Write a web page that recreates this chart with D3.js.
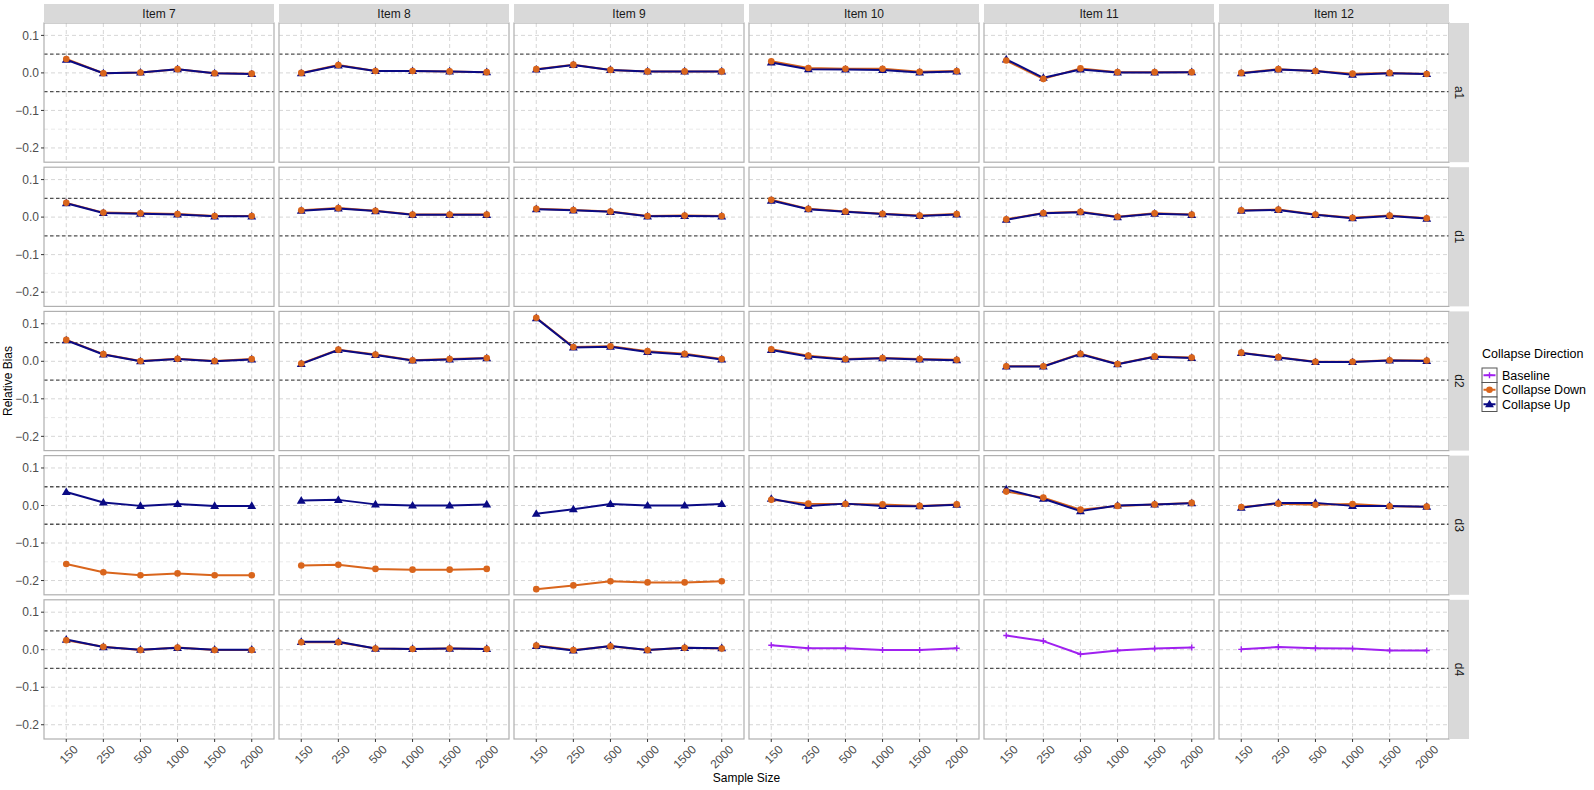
<!DOCTYPE html>
<html>
<head>
<meta charset="utf-8">
<script src="https://cdn.jsdelivr.net/npm/d3@7"></script>
<style>
  body { margin: 0; background: #fff; }
  svg { display: block; font-family: "Liberation Sans", Arial, sans-serif; }
</style>
</head>
<body>
<svg id="chart" width="1594" height="790"></svg>
<script>
// ---------------- data ----------------
const sampleSizes = ["150", "250", "500", "1000", "1500", "2000"];
const items = ["Item 7", "Item 8", "Item 9", "Item 10", "Item 11", "Item 12"];
const params = ["a1", "d1", "d2", "d3", "d4"];
const yTicks = [0.1, 0.0, -0.1, -0.2];
const yMinor = [0.05, -0.05, -0.15];
const refLines = [0.05, -0.05];
const seriesNames = ["Baseline", "Collapse Down", "Collapse Up"];

// each array: one row per item (Item 7..12), one value per sample size
const upA1 = [
  [0.035, -0.001, 0.001, 0.010, -0.001, -0.003],
  [-0.001, 0.020, 0.005, 0.005, 0.004, 0.002],
  [0.009, 0.021, 0.008, 0.004, 0.004, 0.004],
  [0.028, 0.010, 0.009, 0.008, 0.001, 0.004],
  [0.036, -0.013, 0.009, 0.001, 0.001, 0.002],
  [-0.001, 0.009, 0.005, -0.005, -0.001, -0.003]
];
const downA1 = [
  [0.037, -0.001, 0.001, 0.010, -0.001, -0.002],
  [0.000, 0.021, 0.005, 0.005, 0.004, 0.002],
  [0.010, 0.022, 0.008, 0.004, 0.004, 0.004],
  [0.031, 0.013, 0.011, 0.011, 0.003, 0.005],
  [0.033, -0.016, 0.012, 0.002, 0.002, 0.002],
  [0.000, 0.010, 0.005, -0.002, 0.000, -0.003]
];
const upD1 = [
  [0.037, 0.011, 0.009, 0.007, 0.002, 0.002],
  [0.017, 0.023, 0.016, 0.006, 0.006, 0.006],
  [0.021, 0.018, 0.014, 0.002, 0.003, 0.002],
  [0.044, 0.021, 0.014, 0.008, 0.003, 0.007],
  [-0.007, 0.010, 0.013, 0.000, 0.009, 0.006],
  [0.017, 0.019, 0.006, -0.003, 0.003, -0.004]
];
const downD1 = [
  [0.038, 0.012, 0.010, 0.008, 0.003, 0.003],
  [0.018, 0.024, 0.017, 0.007, 0.007, 0.007],
  [0.022, 0.019, 0.015, 0.003, 0.004, 0.003],
  [0.046, 0.022, 0.015, 0.009, 0.004, 0.008],
  [-0.006, 0.011, 0.014, 0.001, 0.010, 0.007],
  [0.018, 0.020, 0.007, -0.002, 0.004, -0.003]
];
const upD2 = [
  [0.056, 0.018, 0.000, 0.006, 0.000, 0.005],
  [-0.007, 0.030, 0.017, 0.002, 0.005, 0.008],
  [0.115, 0.037, 0.039, 0.025, 0.018, 0.005],
  [0.030, 0.013, 0.005, 0.008, 0.005, 0.003],
  [-0.014, -0.014, 0.019, -0.008, 0.012, 0.009],
  [0.022, 0.010, -0.002, -0.002, 0.002, 0.001]
];
const downD2 = [
  [0.057, 0.019, 0.001, 0.007, 0.001, 0.006],
  [-0.006, 0.031, 0.018, 0.003, 0.006, 0.009],
  [0.116, 0.038, 0.040, 0.027, 0.020, 0.006],
  [0.032, 0.015, 0.006, 0.009, 0.006, 0.004],
  [-0.013, -0.013, 0.020, -0.007, 0.013, 0.010],
  [0.023, 0.011, -0.001, -0.001, 0.003, 0.002]
];
const upD3 = [
  [0.036, 0.008, -0.001, 0.004, -0.001, -0.001],
  [0.013, 0.015, 0.003, 0.000, 0.000, 0.003],
  [-0.022, -0.010, 0.004, 0.000, 0.000, 0.004],
  [0.018, -0.001, 0.005, -0.001, -0.002, 0.002],
  [0.043, 0.018, -0.015, 0.000, 0.003, 0.006],
  [-0.006, 0.007, 0.007, -0.001, -0.001, -0.003]
];
const downD3 = [
  [-0.156, -0.178, -0.186, -0.181, -0.186, -0.186],
  [-0.160, -0.158, -0.169, -0.171, -0.171, -0.169],
  [-0.223, -0.213, -0.202, -0.205, -0.205, -0.202],
  [0.015, 0.005, 0.004, 0.003, -0.001, 0.003],
  [0.037, 0.021, -0.011, -0.001, 0.003, 0.007],
  [-0.004, 0.005, 0.002, 0.004, -0.002, -0.003]
];
const upD4 = [
  [0.027, 0.007, 0.000, 0.005, 0.000, 0.000],
  [0.021, 0.021, 0.003, 0.002, 0.003, 0.002],
  [0.010, -0.002, 0.010, -0.001, 0.005, 0.004],
  null, null, null
];
const downD4 = [
  [0.025, 0.008, -0.001, 0.006, -0.001, -0.001],
  [0.020, 0.020, 0.003, 0.002, 0.003, 0.002],
  [0.011, -0.001, 0.009, -0.001, 0.005, 0.003],
  null, null, null
];
const baselineD4 = [
  null, null, null,
  [0.012, 0.004, 0.004, -0.001, -0.001, 0.004],
  [0.038, 0.023, -0.012, -0.002, 0.003, 0.006],
  [0.001, 0.007, 0.004, 0.003, -0.002, -0.002]
];

const upByParam = [upA1, upD1, upD2, upD3, upD4];
const downByParam = [downA1, downD1, downD2, downD3, downD4];
const baseByParam = [null, null, null, null, baselineD4];

// ---------------- layout ----------------
const colors = { "Baseline": "#A020F0", "Collapse Down": "#D9651C", "Collapse Up": "#0A0A84" };
const plotLeft = 44, panelW = 230, colGap = 5;
const plotTop = 23, panelH = 139.2, rowGap = 5;
const stripH = 19, rightStripW = 20;

const svg = d3.select("#chart");

const x = d3.scalePoint().domain(sampleSizes).range([0, panelW]).padding(0.6);
const y = d3.scaleLinear().domain([-0.238, 0.133]).range([panelH, 0]);

const triangle = d3.symbol().type(d3.symbolTriangle).size(34);
const cross = d3.symbol().type(d3.symbolCross).size(26);

function drawMarker(g, name, px, py) {
  if (name === "Collapse Down") {
    g.append("circle").attr("cx", px).attr("cy", py).attr("r", 3.3).attr("fill", colors[name]);
  } else if (name === "Collapse Up") {
    g.append("path").attr("d", triangle).attr("transform", `translate(${px},${py + 0.5})`).attr("fill", colors[name]);
  } else {
    // plus sign
    g.append("path").attr("d", `M${px - 3},${py}H${px + 3}M${px},${py - 3}V${py + 3}`)
      .attr("stroke", colors[name]).attr("stroke-width", 1.4).attr("fill", "none");
  }
}

const line = d3.line().x((d, i) => x(sampleSizes[i])).y(d => y(d));

params.forEach((p, r) => {
  const py0 = plotTop + r * (panelH + rowGap);
  items.forEach((it, c) => {
    const px0 = plotLeft + c * (panelW + colGap);
    const g = svg.append("g").attr("transform", `translate(${px0},${py0})`);
    g.append("rect").attr("width", panelW).attr("height", panelH).attr("fill", "#fff");
    // minor grid
    yMinor.forEach(v => {
      g.append("line").attr("x1", 0).attr("x2", panelW).attr("y1", y(v)).attr("y2", y(v))
        .attr("stroke", "#e3e3e3").attr("stroke-width", 0.8).attr("stroke-dasharray", "4,3");
    });
    // major grid
    yTicks.forEach(v => {
      g.append("line").attr("x1", 0).attr("x2", panelW).attr("y1", y(v)).attr("y2", y(v))
        .attr("stroke", "#d6d6d6").attr("stroke-width", 1).attr("stroke-dasharray", "4,3");
    });
    sampleSizes.forEach(s => {
      g.append("line").attr("x1", x(s)).attr("x2", x(s)).attr("y1", 0).attr("y2", panelH)
        .attr("stroke", "#d6d6d6").attr("stroke-width", 1).attr("stroke-dasharray", "4,3");
    });
    // reference lines
    refLines.forEach(v => {
      g.append("line").attr("x1", 0).attr("x2", panelW).attr("y1", y(v)).attr("y2", y(v))
        .attr("stroke", "#505050").attr("stroke-width", 1.3).attr("stroke-dasharray", "3.5,2.5");
    });

    const series = [];
    if (baseByParam[r] && baseByParam[r][c]) series.push({ name: "Baseline", vals: baseByParam[r][c] });
    if (downByParam[r][c]) series.push({ name: "Collapse Down", vals: downByParam[r][c] });
    if (upByParam[r][c]) series.push({ name: "Collapse Up", vals: upByParam[r][c] });

    // lines: Baseline, Down, Up
    series.forEach(s => {
      g.append("path").attr("d", line(s.vals)).attr("fill", "none")
        .attr("stroke", colors[s.name]).attr("stroke-width", 2).attr("stroke-linejoin", "round");
    });
    // points: Baseline, Up, Down
    const ptOrder = ["Baseline", "Collapse Up", "Collapse Down"];
    ptOrder.forEach(nm => {
      const s = series.find(d => d.name === nm);
      if (!s) return;
      s.vals.forEach((v, i) => drawMarker(g, nm, x(sampleSizes[i]), y(v)));
    });

    g.append("rect").attr("width", panelW).attr("height", panelH).attr("fill", "none")
      .attr("stroke", "#b0b0b0").attr("stroke-width", 1.2);

    // y axis on first column
    if (c === 0) {
      yTicks.forEach(v => {
        g.append("line").attr("x1", -3).attr("x2", 0).attr("y1", y(v)).attr("y2", y(v))
          .attr("stroke", "#333").attr("stroke-width", 1);
        g.append("text").attr("x", -5).attr("y", y(v)).attr("dy", "0.35em")
          .attr("text-anchor", "end").attr("font-size", 12).attr("fill", "#4d4d4d")
          .text(d3.format(".1f")(v));
      });
    }
    // top strip
    if (r === 0) {
      svg.append("rect").attr("x", px0).attr("y", plotTop - stripH).attr("width", panelW).attr("height", stripH)
        .attr("fill", "#d9d9d9");
      svg.append("text").attr("x", px0 + panelW / 2).attr("y", plotTop - stripH / 2).attr("dy", "0.35em")
        .attr("text-anchor", "middle").attr("font-size", 12).attr("fill", "#1a1a1a").text(it);
    }
    // bottom axis
    if (r === params.length - 1) {
      sampleSizes.forEach(s => {
        g.append("line").attr("x1", x(s)).attr("x2", x(s)).attr("y1", panelH).attr("y2", panelH + 3)
          .attr("stroke", "#333").attr("stroke-width", 1);
        g.append("text")
          .attr("transform", `translate(${x(s) + 6},${panelH + 5}) rotate(-45)`)
          .attr("text-anchor", "end").attr("dy", "0.75em")
          .attr("font-size", 12).attr("fill", "#4d4d4d").text(s);
      });
    }
  });
  // right strip
  const sx = plotLeft + items.length * (panelW + colGap) - colGap;
  svg.append("rect").attr("x", sx).attr("y", py0).attr("width", rightStripW).attr("height", panelH)
    .attr("fill", "#d9d9d9");
  svg.append("text")
    .attr("transform", `translate(${sx + rightStripW / 2},${py0 + panelH / 2}) rotate(90)`)
    .attr("text-anchor", "middle").attr("dy", "0.35em").attr("font-size", 12).attr("fill", "#1a1a1a")
    .text(p);
});

// axis titles
const plotRight = plotLeft + items.length * (panelW + colGap) - colGap;
const plotBottom = plotTop + params.length * (panelH + rowGap) - rowGap;
svg.append("text").attr("x", (plotLeft + plotRight) / 2).attr("y", 782)
  .attr("text-anchor", "middle").attr("font-size", 12).attr("fill", "#000").text("Sample Size");
svg.append("text").attr("transform", `translate(12,${(plotTop + plotBottom) / 2}) rotate(-90)`)
  .attr("text-anchor", "middle").attr("font-size", 12).attr("fill", "#000").text("Relative Bias");

// legend
const lg = svg.append("g").attr("transform", "translate(1482,348)");
lg.append("text").attr("x", 0).attr("y", 10).attr("font-size", 12.5).attr("fill", "#000").text("Collapse Direction");
const keyH = 14.5, keyW = 15, keyTop = 20;
seriesNames.forEach((nm, i) => {
  const ky = keyTop + i * keyH;
  lg.append("rect").attr("x", 0).attr("y", ky).attr("width", keyW).attr("height", keyH)
    .attr("fill", "#fff").attr("stroke", "#555").attr("stroke-width", 1);
  lg.append("line").attr("x1", 1.5).attr("x2", keyW - 1.5).attr("y1", ky + keyH / 2).attr("y2", ky + keyH / 2)
    .attr("stroke", colors[nm]).attr("stroke-width", 2);
  drawMarker(lg, nm, keyW / 2, ky + keyH / 2);
  lg.append("text").attr("x", keyW + 5).attr("y", ky + keyH / 2).attr("dy", "0.35em")
    .attr("font-size", 12.5).attr("fill", "#000").text(nm);
});
</script>
</body>
</html>
